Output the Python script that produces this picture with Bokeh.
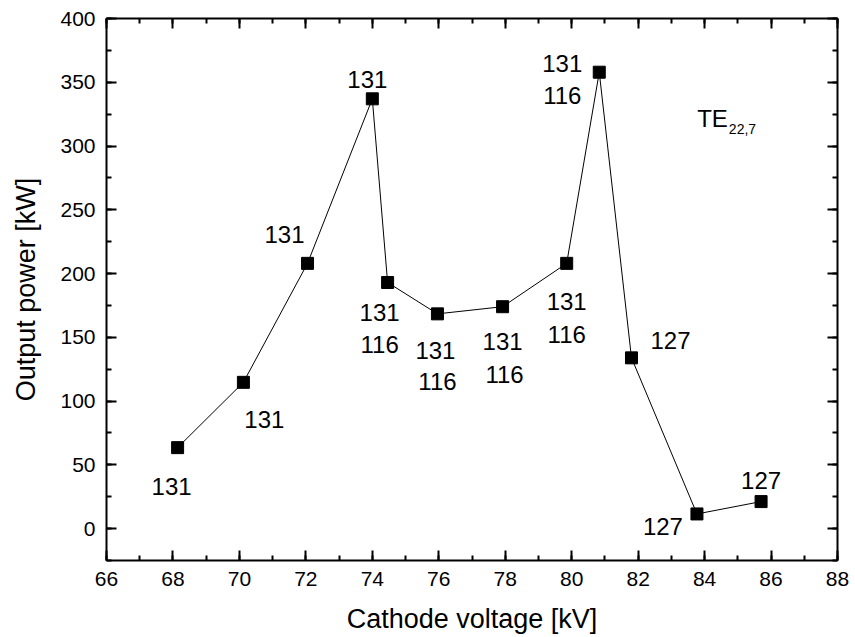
from bokeh.plotting import figure
from bokeh.models import LinearAxis, SingleIntervalTicker, Label, ColumnDataSource, CustomJSTickFormatter
from bokeh.core.properties import value
from bokeh.embed import file_html
from bokeh.resources import INLINE

# ---- data ----
voltage = [68.14, 70.12, 72.05, 74.0, 74.46, 75.96, 77.92, 79.85, 80.83, 81.80, 83.77, 85.70]
power = [63.5, 114.7, 208, 337, 193, 168.4, 174, 208, 357.9, 133.9, 11.5, 21.2]

# labels: (text, index of point)
label_texts = ["131", "131", "131", "131", "131", "116", "131", "116", "131", "116",
               "131", "116", "131", "116", "127", "127", "127"]
label_point = [0, 1, 2, 3, 4, 4, 5, 5, 6, 6, 7, 7, 8, 8, 9, 10, 11]
# label offsets in screen pixels (style)
label_dx = [-6, 21, -23, -5, -8, -8, -2, 0, 0, 2, 0, 0, -37, -37, 39, -34, 0]
label_dy = [39, 37, -29, -19, 30, 62, 37, 68, 35, 68, 38, 71, -9, 23, -17, 13, -21]

x_title = "Cathode voltage [kV]"
y_title = "Output power [kW]"
mode_main = "TE"
mode_sub = "22,7"

FONT = "Liberation Sans"

p = figure(frame_width=731, frame_height=542,
           x_range=(66, 88), y_range=(-25, 400),
           output_backend="svg", toolbar_location=None,
           min_border_left=106, min_border_right=12, min_border_top=18, min_border_bottom=70,
           x_axis_label=x_title, y_axis_label=y_title)
p.outline_line_color = None
p.xgrid.visible = False
p.ygrid.visible = False
p.background_fill_color = "white"
p.border_fill_color = "white"

xt = SingleIntervalTicker(interval=2, num_minor_ticks=2)
yt = SingleIntervalTicker(interval=50, num_minor_ticks=2)

def style_axis(ax, show_labels=True):
    ax.axis_line_width = 2
    ax.axis_line_color = "black"
    ax.major_tick_in = 10
    ax.major_tick_out = 0
    ax.minor_tick_in = 5
    ax.minor_tick_out = 0
    ax.major_tick_line_width = 2
    ax.minor_tick_line_width = 2
    ax.major_tick_line_color = "black"
    ax.minor_tick_line_color = "black"
    ax.major_label_text_font = FONT
    ax.major_label_text_font_size = "21px"
    ax.major_label_text_color = "black"
    ax.major_label_standoff = 11 if show_labels else 0
    ax.axis_label_text_font = FONT
    ax.axis_label_text_font_size = "27px"
    ax.axis_label_text_font_style = "normal"
    ax.axis_label_text_color = "black"
    if not show_labels:
        ax.formatter = CustomJSTickFormatter(code="return ''")

p.xaxis.ticker = xt
p.yaxis.ticker = yt
style_axis(p.xaxis[0])
style_axis(p.yaxis[0])
p.xaxis.axis_label_standoff = 15
p.yaxis.axis_label_standoff = 16

top = LinearAxis(ticker=SingleIntervalTicker(interval=2, num_minor_ticks=2))
style_axis(top, show_labels=False)
p.add_layout(top, "above")
right = LinearAxis(ticker=SingleIntervalTicker(interval=50, num_minor_ticks=2))
style_axis(right, show_labels=False)
p.add_layout(right, "right")

src = ColumnDataSource(dict(x=voltage, y=power))
p.line("x", "y", source=src, line_color="black", line_width=1)
p.scatter("x", "y", source=src, marker="square", size=12, fill_color="black", line_color="black")

lsrc = ColumnDataSource(dict(
    x=[voltage[i] for i in label_point],
    y=[power[i] for i in label_point],
    t=label_texts, dx=label_dx, dy=label_dy))
p.text("x", "y", text="t", source=lsrc, x_offset="dx", y_offset="dy",
       text_font=value(FONT), text_font_size="24px", text_align="center",
       text_baseline="middle", text_color="black")

p.add_layout(Label(x=84.7, y=321.6, text=mode_main, text_font=FONT, text_font_size="24px",
                   text_align="right", text_baseline="alphabetic", text_color="black"))
p.add_layout(Label(x=84.73, y=313.7, text=mode_sub, text_font=FONT, text_font_size="14px",
                   text_align="left", text_baseline="alphabetic", text_color="black"))

open("out.html", "w").write(file_html(p, INLINE))
